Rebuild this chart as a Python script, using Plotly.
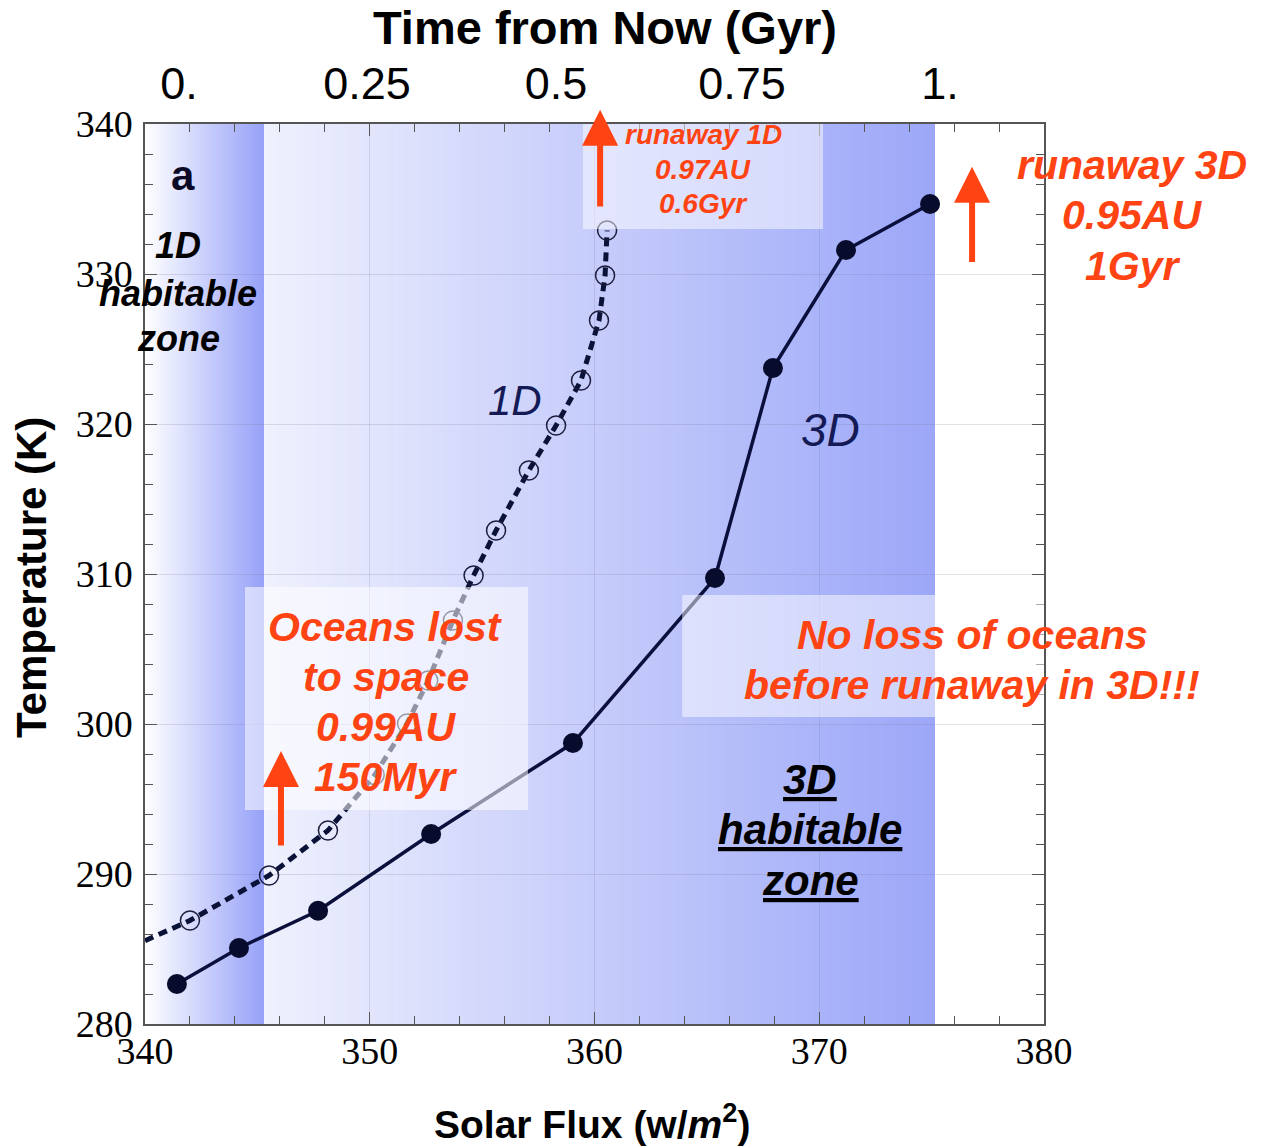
import numpy as np
import plotly.graph_objects as go

# ---------------- data ----------------
flux_3d = [341.42, 344.18, 347.70, 352.73, 359.04, 365.36, 367.94, 371.19, 374.93]
temp_3d = [282.67, 285.07, 287.55, 292.67, 298.73, 309.73, 323.73, 331.60, 334.67]

flux_1d = [342.00, 345.52, 348.14, 350.22, 351.66, 352.60, 353.70, 354.62, 355.62,
           357.08, 358.29, 359.40, 360.20, 360.47, 360.56]
temp_1d = [286.90, 289.90, 292.90, 296.60, 300.03, 302.90, 306.90, 309.90, 312.90,
           316.90, 319.90, 322.90, 326.90, 329.90, 332.90]
# dashed 1D curve extends to the left frame
line_1d_flux = [340.0] + flux_1d
line_1d_temp = [285.55] + temp_1d

hz_1d = [340.0, 345.3]      # 1D habitable zone (flux)
hz_3d = [345.3, 375.15]     # 3D habitable zone (flux)

x_ticks = [340, 350, 360, 370, 380]
y_ticks = [280, 290, 300, 310, 320, 330, 340]
time_tick_text = ["0.", "0.25", "0.5", "0.75", "1."]
time_tick_flux = [341.51, 349.88, 358.29, 366.56, 375.37]

ORANGE = "#ff4313"
NAVY = "#0a0f3c"

fig = go.Figure()

# ---------------- gradient backgrounds ----------------
def hex2rgb(h):
    h = h.lstrip("#")
    return [int(h[i:i + 2], 16) for i in (0, 2, 4)]

shapes = []

def add_gradient(x0, x1, c0, c1, n):
    a, b = np.array(hex2rgb(c0), float), np.array(hex2rgb(c1), float)
    edges = np.linspace(x0, x1, n + 1)
    w = (x1 - x0) / n
    for i in range(n):
        t = (i + 0.5) / n
        c = (a + (b - a) * t).round().astype(int)
        right = edges[i + 1] + (0.4 * w if i < n - 1 else 0)
        shapes.append(dict(type="rect", xref="x", yref="paper",
                           x0=edges[i], x1=right, y0=0, y1=1,
                           fillcolor="rgb(%d,%d,%d)" % tuple(c),
                           line=dict(width=0), layer="below"))

add_gradient(hz_1d[0], hz_1d[1], "#ffffff", "#96a1f8", 40)
add_gradient(hz_3d[0], hz_3d[1], "#eff1fd", "#9ca7f8", 120)

# ---------------- traces ----------------
fig.add_trace(go.Scatter(x=line_1d_flux, y=line_1d_temp, mode="lines",
                         line=dict(color="#0b1238", width=5, dash="9px,6px"),
                         hoverinfo="skip", showlegend=False))
fig.add_trace(go.Scatter(x=flux_1d, y=temp_1d, mode="markers",
                         marker=dict(symbol="circle-open", size=19, color="#1c1c3c",
                                     line=dict(width=1.5)),
                         hoverinfo="skip", showlegend=False))
fig.add_trace(go.Scatter(x=flux_3d, y=temp_3d, mode="lines+markers",
                         line=dict(color=NAVY, width=3.5),
                         marker=dict(size=20, color="#070b2c"),
                         hoverinfo="skip", showlegend=False))
# dummy trace for the top (time) axis
fig.add_trace(go.Scatter(x=[340, 380], y=[None, None], xaxis="x2", mode="lines",
                         hoverinfo="skip", showlegend=False))

# ---------------- translucent text boxes ----------------
for (x0, x1, y0, y1, op) in [(344.45, 357.04, 294.27, 309.13, 0.55),
                             (359.49, 370.17, 333.0, 340.0, 0.5),
                             (363.9, 380.0, 300.47, 308.6, 0.5)]:
    shapes.append(dict(type="rect", xref="x", yref="y", x0=x0, x1=x1, y0=y0, y1=y1,
                       fillcolor="rgba(255,255,255,%s)" % op, line=dict(width=0),
                       layer="above"))

# ---------------- annotations ----------------
ann = []

def txt(x, y, s, size, color=ORANGE, xref="x", yref="y", **kw):
    d = dict(x=x, y=y, xref=xref, yref=yref, text=s, showarrow=False,
             xanchor="center", yanchor="middle",
             font=dict(family="Liberation Sans, Arial, sans-serif", size=size, color=color))
    d.update(kw)
    ann.append(d)

def arrow(x, y_tail, y_tip):
    ann.append(dict(x=x, y=y_tip, ax=x, ay=y_tail, xref="x", yref="y", axref="x", ayref="y",
                    text="", showarrow=True, arrowhead=2, arrowsize=1.2, arrowwidth=6,
                    arrowcolor=ORANGE, standoff=0, startstandoff=0))

# Oceans lost box
for s, yy in [("Oceans lost", 306.47), ("to space", 303.13), ("0.99AU", 299.8), ("150Myr", 296.47)]:
    txt(350.72, yy, "<b><i>%s</i></b>" % s, 41)
arrow(346.05, 291.8, 298.2)

# runaway 1D
for s, yy in [("runaway 1D", 339.27), ("0.97AU", 337.0), ("0.6Gyr", 334.67)]:
    txt(364.83, yy, "<b><i>%s</i></b>" % s, 28)
arrow(360.25, 334.4, 340.95)

# runaway 3D (right of the frame -> paper x)
for s, yy in [("runaway 3D", 337.27), ("0.95AU", 333.93), ("1Gyr", 330.53)]:
    txt((1132 - 145) / 899, yy, "<b><i>%s</i></b>" % s, 41, xref="paper")
arrow(376.8, 330.7, 337.15)

# No loss of oceans
for s, yy in [("No loss of oceans", 305.93), ("before runaway in 3D!!!", 302.6)]:
    txt((972 - 145) / 899, yy, "<b><i>%s</i></b>" % s, 41, xref="paper")

# labels inside plot
txt(341.69, 336.6, "<b>a</b>", 42, color="#0a0a28")
for s, yy in [("1D", 331.87), ("habitable", 328.73), ("zone", 325.73)]:
    txt(341.47, yy, "<b><i>%s</i></b>" % s, 36, color="#000000")
txt(356.46, 321.6, "<i>1D</i>", 42, color="#141a55")
txt(370.48, 319.6, "<i>3D</i>", 46, color="#141a55")
for s, yy in [("3D", 296.33), ("habitable", 293.0), ("zone", 289.6)]:
    txt(369.59, yy, "<b><i><u>%s</u></i></b>" % s, 42, color="#000000")

# axis titles
txt(0.4972, (1024 - 1121) / 900, "<b>Solar Flux (w/<i>m</i><sup>2</sup>)</b>", 39,
    color="#000000", xref="paper", yref="paper")
txt(-0.1257, 0.4967, "<b>Temperature (K)</b>", 42, color="#000000",
    xref="paper", yref="paper", textangle=-90)
txt(0.5117, (1024 - 27) / 900, "<b>Time from Now (Gyr)</b>", 47, color="#000000",
    xref="paper", yref="paper")

# ---------------- layout ----------------
AX = "#555555"
GRID = "rgba(120,120,150,0.22)"
fig.update_layout(
    width=1264, height=1148, autosize=False,
    margin=dict(l=145, r=220, t=124, b=124),
    paper_bgcolor="white", plot_bgcolor="white",
    shapes=shapes, annotations=ann, showlegend=False,
    xaxis=dict(range=[340, 380], tickvals=x_ticks, ticks="inside", ticklen=12,
               tickwidth=1.3, tickcolor=AX, showline=True, linecolor=AX, linewidth=1.5,
               mirror="ticks", showgrid=True, gridcolor=GRID, gridwidth=1,
               zeroline=False, ticklabelstandoff=-7,
               minor=dict(dtick=2, ticks="inside", ticklen=8, tickcolor=AX, showgrid=False),
               tickfont=dict(family="Liberation Serif, Times New Roman, serif", size=38,
                             color="#000000")),
    xaxis2=dict(range=[340, 380], overlaying="x", side="top", tickvals=time_tick_flux,
                ticktext=time_tick_text, ticks="", showgrid=False, showline=False,
                zeroline=False, ticklabelstandoff=15,
                tickfont=dict(family="Liberation Sans, Arial, sans-serif", size=45,
                              color="#000000")),
    yaxis=dict(range=[280, 340], tickvals=y_ticks, ticks="inside", ticklen=12,
               tickwidth=1.3, tickcolor=AX, showline=True, linecolor=AX, linewidth=1.5,
               mirror="ticks", showgrid=True, gridcolor=GRID, gridwidth=1,
               zeroline=False, ticklabelstandoff=3,
               minor=dict(dtick=2, ticks="inside", ticklen=8, tickcolor=AX, showgrid=False),
               tickfont=dict(family="Liberation Serif, Times New Roman, serif", size=38,
                             color="#000000")),
)

fig.write_html("out.html")
